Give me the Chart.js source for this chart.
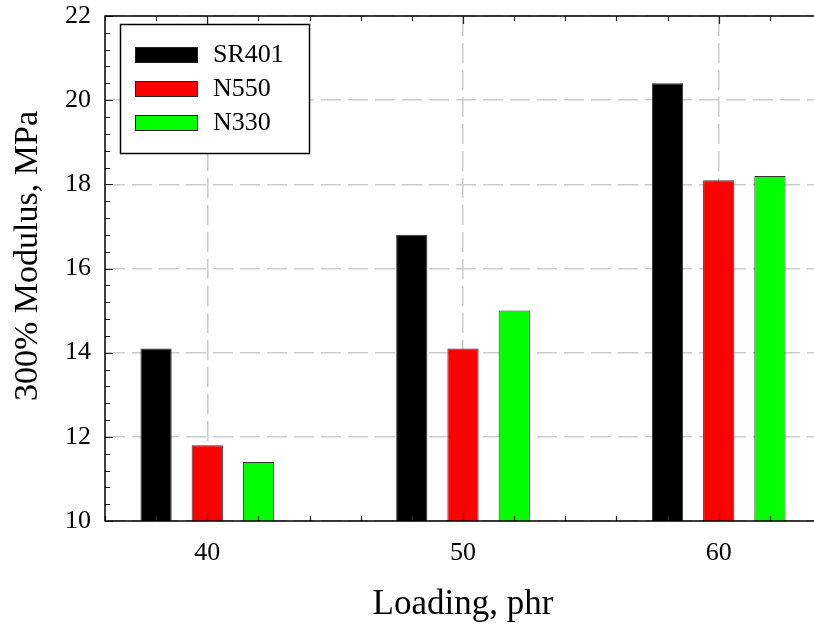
<!DOCTYPE html>
<html>
<head>
<meta charset="utf-8">
<script src="https://cdn.jsdelivr.net/npm/chart.js@4"></script>
<style>
html,body{margin:0;padding:0;background:#fff;overflow:hidden}
#wrap{position:relative;width:830px;height:629px}
</style>
</head>
<body>
<div id="wrap"><canvas id="c"></canvas></div>
<script>
// loading (phr) and 300% modulus (MPa) per filler
const loadings = [40, 50, 60];
const sr401 = [14.1, 16.8, 20.4];
const n550 = [11.8, 14.1, 18.1];
const n330 = [11.4, 15.0, 18.2];
const seriesNames = ["SR401", "N550", "N330"];
const seriesColors = ["#000000", "#ff0000", "#00ff00"];

const FONT = "'Liberation Serif', 'Times New Roman', serif";

function mkSet(i, vals){
  return { label: seriesNames[i], data: loadings.map((x, k) => ({x, y: vals[k]})),
    backgroundColor: seriesColors[i], borderColor: "#333", borderWidth: 1,
    categoryPercentage: 0.601, barPercentage: 0.61 };
}

// frame, inward tick marks, y title and boxed legend
const decor = {
  id: "decor",
  afterDatasetsDraw(chart){
    const {ctx, chartArea: a, scales: {x, y}} = chart;
    ctx.save();
    ctx.strokeStyle = "#222"; ctx.lineWidth = 1.2;
    ctx.beginPath();
    for(let v = 36; v <= 64; v += 2){
      const px = Math.round(x.getPixelForValue(v)) + 0.5, len = v % 10 === 0 ? 8 : 5;
      ctx.moveTo(px, a.bottom); ctx.lineTo(px, a.bottom - len);
      ctx.moveTo(px, a.top); ctx.lineTo(px, a.top + len);
    }
    for(let i = 0; i <= 30; i++){
      const v = 10 + i * 0.4, py = Math.round(y.getPixelForValue(v)) + 0.5, len = i % 5 === 0 ? 8 : 5;
      ctx.moveTo(a.left, py); ctx.lineTo(a.left + len, py);
    }
    ctx.stroke();
    ctx.strokeStyle = "#000"; ctx.lineWidth = 1.5;
    ctx.beginPath();
    ctx.moveTo(a.right + 5, a.top); ctx.lineTo(a.left, a.top); ctx.lineTo(a.left, a.bottom); ctx.lineTo(a.right + 5, a.bottom);
    ctx.stroke();
    ctx.restore();
  },
  afterDraw(chart){
    const {ctx, chartArea: a} = chart;
    ctx.save();
    // y title
    ctx.fillStyle = "#000"; ctx.font = "34px " + FONT;
    ctx.textAlign = "center"; ctx.textBaseline = "middle";
    ctx.translate(28, 256); ctx.rotate(-Math.PI / 2);
    ctx.fillText("300% Modulus, MPa", 0, 0);
    ctx.restore();
    // legend
    ctx.save();
    const lx = a.left + 15.5, ly = a.top + 8.5;
    ctx.fillStyle = "#fff"; ctx.fillRect(lx, ly, 189, 129);
    ctx.strokeStyle = "#000"; ctx.lineWidth = 1.5; ctx.strokeRect(lx, ly, 189, 129);
    ctx.font = "26px " + FONT; ctx.textBaseline = "middle"; ctx.textAlign = "left";
    chart.data.datasets.forEach((ds, i) => {
      const sy = a.top + 31 + i * 34;
      ctx.fillStyle = ds.backgroundColor; ctx.fillRect(a.left + 30, sy, 62, 15);
      ctx.strokeStyle = "#222"; ctx.lineWidth = 1; ctx.strokeRect(a.left + 30.5, sy + 0.5, 62, 15);
      ctx.fillStyle = "#000"; ctx.fillText(ds.label, a.left + 108, sy + 8);
    });
    ctx.restore();
  }
};

new Chart(document.getElementById("c"), {
  type: "bar",
  data: { datasets: [mkSet(0, sr401), mkSet(1, n550), mkSet(2, n330)] },
  options: {
    responsive: true, maintainAspectRatio: false, animation: false, devicePixelRatio: 1,
    layout: { padding: { top: 16, right: 9, left: 0, bottom: 0 } },
    plugins: { legend: { display: false }, tooltip: { enabled: false } },
    scales: {
      x: {
        type: "linear", min: 36, max: 64, offset: false,
        afterBuildTicks: s => { s.ticks = loadings.map(v => ({value: v})); },
        afterFit: s => { s.height = 108; s.paddingLeft = 0; s.paddingRight = 0; },
        grid: { offset: false, color: "#cccccc", lineWidth: 1.5, drawTicks: false },
        border: { display: false, dash: [20, 7] },
        ticks: { color: "#000", font: { family: FONT, size: 26 }, padding: 17, maxRotation: 0 },
        title: { display: true, text: "Loading, phr", color: "#000", font: { family: FONT, size: 35 }, padding: { top: 0, bottom: 3 } }
      },
      y: {
        min: 10, max: 22,
        afterFit: s => { s.width = 105; s.paddingTop = 0; s.paddingBottom = 0; },
        grid: { color: "#cccccc", lineWidth: 1.5, drawTicks: false },
        border: { display: false, dash: [20, 7] },
        ticks: { stepSize: 2, color: "#000", font: { family: FONT, size: 26 }, padding: 14 }
      }
    }
  },
  plugins: [decor]
});
</script>
</body>
</html>
